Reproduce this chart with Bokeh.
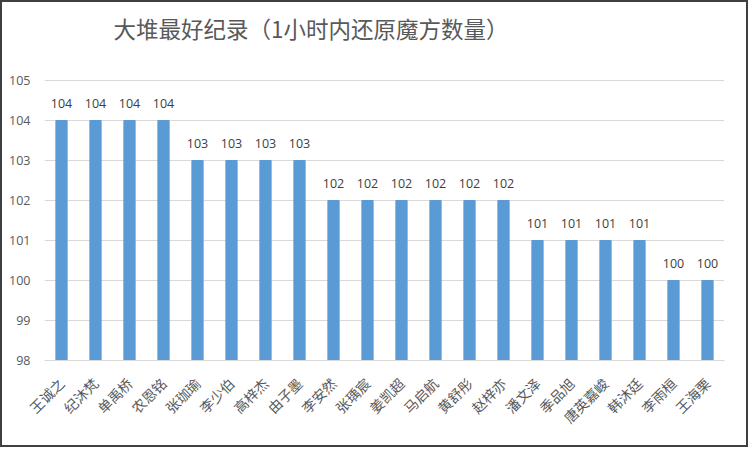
import math

from bokeh.core.properties import value
from bokeh.embed import file_html
from bokeh.models import ColumnDataSource, FixedTicker, Label, LabelSet, Range1d
from bokeh.plotting import figure
from bokeh.resources import INLINE

# names of the players, in chart order
names = ['王诚之', '纪沐梵', '单禹桥', '农恩铭', '张珈瑜', '李少伯', '高梓杰', '由子墨',
         '李安然', '张瑀宸', '姜凯超', '马启航', '黄舒彤', '赵梓亦', '潘文泽', '季品旭',
         '唐英嘉峻', '韩沐廷', '李雨桓', '王海栗']
# cubes solved within one hour
counts = [104, 104, 104, 104, 103, 103, 103, 103,
          102, 102, 102, 102, 102, 102, 101, 101,
          101, 101, 100, 100]
y_ticks = [98, 99, 100, 101, 102, 103, 104, 105]
y_base = 98
y_top = 106.8  # head room above the last tick for the title

title = '大堆最好纪录（1小时内还原魔方数量）'
cjk_font = 'Noto Sans CJK SC'
num_font = 'Open Sans'

source = ColumnDataSource(data=dict(name=names, count=counts, label=[str(c) for c in counts]))

p = figure(x_range=names, y_range=Range1d(y_base, y_top),
           width=748, height=447, tools='',
           toolbar_location=None, output_backend='svg',
           min_border_left=44, min_border_right=24, min_border_top=8, min_border_bottom=87)
# dark frame round the whole chart, as in the screenshot
p.border_fill_color = None
p.styles = {'box-shadow': 'inset 0 0 0 2px #404040', 'background-color': 'white'}

p.vbar(x='name', top='count', bottom=y_base, width=0.33, color='#5B9BD5', source=source)

labels = LabelSet(x='name', y='count', text='label', source=source,
                  text_align='center', text_baseline='middle', y_offset=17,
                  text_font_size='12.5px', text_color='#404040', text_font=value(num_font))
p.add_layout(labels)

# chart title, placed in screen units relative to the plot frame
title_label = Label(x=69, y=333, x_units='screen', y_units='screen', text=title,
                    text_font=cjk_font, text_font_size='22.5px', text_color='#595959',
                    text_align='left', text_baseline='middle')
p.add_layout(title_label)

p.yaxis.ticker = FixedTicker(ticks=y_ticks)
p.yaxis.axis_line_color = None
p.yaxis.major_tick_line_color = None
p.yaxis.minor_tick_line_color = None
p.yaxis.major_label_standoff = 8
p.yaxis.major_label_text_font_size = '12.5px'
p.yaxis.major_label_text_color = '#595959'
p.yaxis.major_label_text_font = num_font

p.xaxis.axis_line_color = '#d9d9d9'
p.xaxis.major_tick_line_color = None
p.xaxis.minor_tick_line_color = None
p.xaxis.major_label_orientation = math.pi / 4
p.xaxis.major_label_text_font_size = '14px'
p.xaxis.major_label_text_color = '#595959'
p.xaxis.major_label_text_font = cjk_font
p.xaxis.major_label_standoff = 14

p.xgrid.grid_line_color = None
p.ygrid.grid_line_color = '#d9d9d9'
p.outline_line_color = None

open("out.html", "w").write(file_html(p, INLINE))
